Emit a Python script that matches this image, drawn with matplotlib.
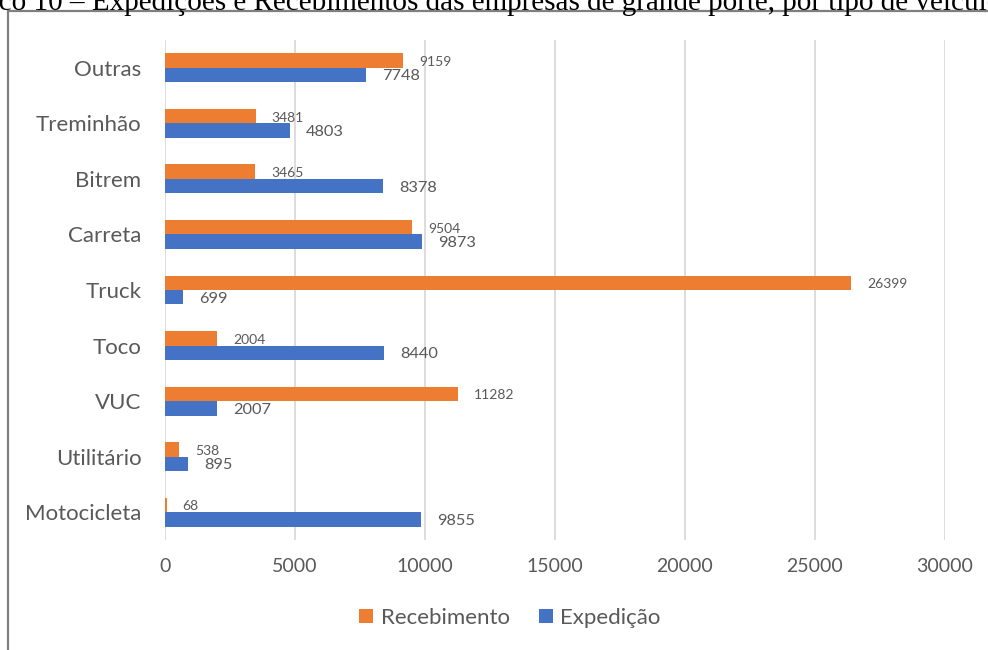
import matplotlib
matplotlib.use('Agg')
import matplotlib.pyplot as plt
from matplotlib.patches import Rectangle
import numpy as np

# dados (de baixo para cima)
categorias = ['Motocicleta', 'Utilitário', 'VUC', 'Toco', 'Truck',
              'Carreta', 'Bitrem', 'Treminhão', 'Outras']
recebimento = [68, 538, 11282, 2004, 26399, 9504, 3465, 3481, 9159]
expedicao = [9855, 895, 2007, 8440, 699, 9873, 8378, 4803, 7748]
x_ticks = [0, 5000, 10000, 15000, 20000, 25000, 30000]
titulo = 'Gráfico 10 – Expedições e Recebimentos das empresas de grande porte, por tipo de veículo'

cor_rec = '#ED7D31'
cor_exp = '#4472C4'
cor_texto = '#595959'
fonte = ['Lato', 'DejaVu Sans']

W, H = 988, 650
fig = plt.figure(figsize=(W / 100, H / 100), dpi=100)

# moldura cinza (cortada à direita e embaixo)
fig.patches.append(Rectangle((8 / W, -0.1), 1.1, 1 - 11 / H + 0.1,
                             transform=fig.transFigure, fill=False,
                             edgecolor='#7f7f7f', linewidth=1.6))

# título cortado no topo
fig.text(1001 / W, 1 - 9.5 / H, titulo, ha='right', va='baseline',
         fontsize=21, family='Liberation Serif', color='black')

ax = fig.add_axes([165 / W, 1 - 540 / H, 780 / W, 500 / H])

y = np.arange(len(categorias))
h = 0.26
b_rec = ax.barh(y + h / 2, recebimento, height=h, color=cor_rec, label='Recebimento', zorder=3)
b_exp = ax.barh(y - h / 2, expedicao, height=h, color=cor_exp, label='Expedição', zorder=3)

for v, yy in zip(recebimento, y + h / 2):
    ax.annotate(str(v), (v, yy), xytext=(11.5, -1), textcoords='offset points',
                ha='left', va='center', fontsize=10, color=cor_texto, family=fonte)
for v, yy in zip(expedicao, y - h / 2):
    ax.annotate(str(v), (v, yy), xytext=(11.5, -1), textcoords='offset points',
                ha='left', va='center', fontsize=11.8, color=cor_texto, family=fonte)

ax.set_xlim(0, 30000)
ax.set_ylim(-0.5, len(categorias) - 0.5)
ax.set_xticks(x_ticks)
ax.set_xticklabels([str(t) for t in x_ticks], family=fonte, fontsize=14, color=cor_texto)
ax.set_yticks(y)
ax.set_yticklabels(categorias, family=fonte, fontsize=16, color=cor_texto)
ax.tick_params(axis='both', length=0)
ax.tick_params(axis='y', pad=17)
ax.tick_params(axis='x', pad=13)
ax.grid(axis='x', color='#d9d9d9', linewidth=1.3, zorder=0)
for s in ax.spines.values():
    s.set_visible(False)

leg = fig.legend(handles=[b_rec, b_exp], loc='center', bbox_to_anchor=(510 / W, 1 - 618 / H),
                 ncol=2, frameon=False, handlelength=0.62, handleheight=0.62,
                 handletextpad=0.35, columnspacing=1.3,
                 prop={'family': fonte, 'size': 16})
for t in leg.get_texts():
    t.set_color(cor_texto)

plt.savefig('out.png', dpi=100)
